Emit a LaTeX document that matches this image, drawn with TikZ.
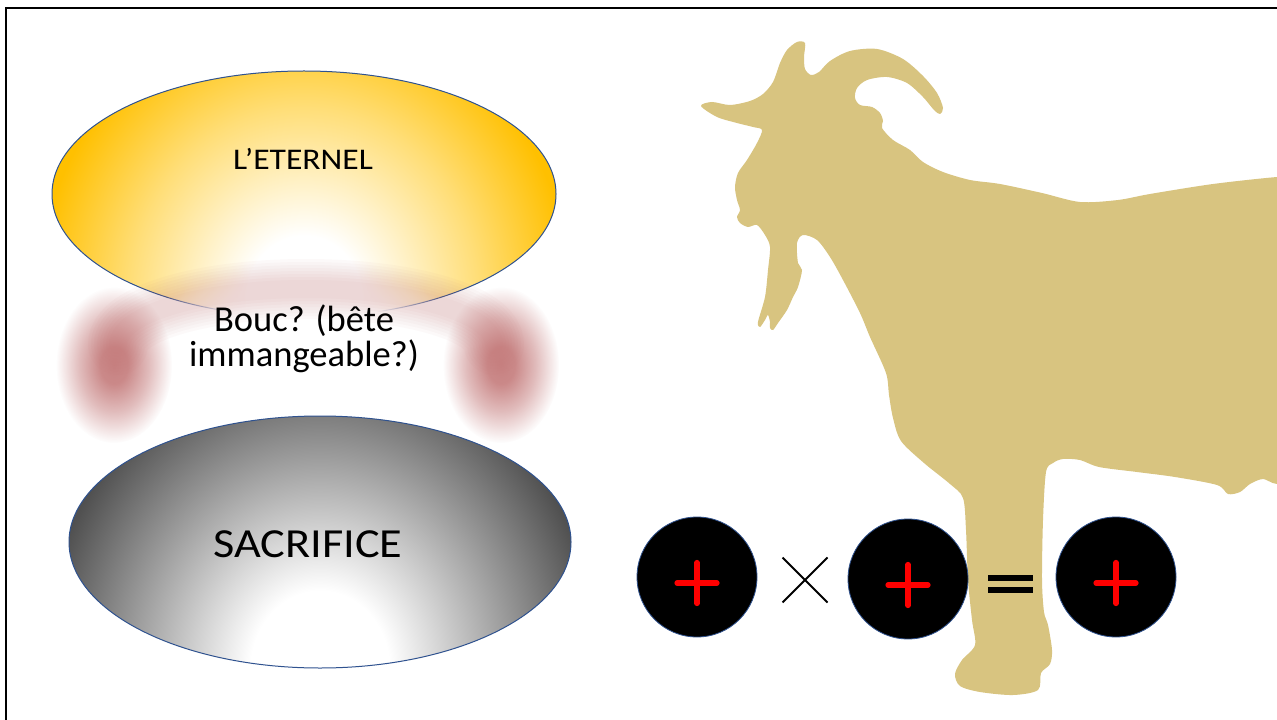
\documentclass[tikz,border=0pt]{standalone}
\usepackage{fontspec}
\setmainfont{Carlito}
\newfontfamily\widecal[FakeStretch=1.12]{Carlito}
\usetikzlibrary{fadings}

\definecolor{outlineblue}{RGB}{47,82,143}
\definecolor{eternalgold}{RGB}{255,192,0}
\definecolor{palegold}{RGB}{255,222,120}
\definecolor{shadowgray}{RGB}{80,80,80}
\definecolor{dustyrose}{RGB}{190,108,108}
\definecolor{goatfur}{RGB}{216,196,128}
\definecolor{signred}{RGB}{255,0,0}

% fills of the two big ellipses (path edge sits at 25bp)
\pgfdeclareradialshading{goldglow}{\pgfpointorigin}{color(0bp)=(white); color(5bp)=(white); color(15bp)=(palegold); color(23bp)=(eternalgold); color(50bp)=(eternalgold)}
\pgfdeclareradialshading{grayglow}{\pgfpointorigin}{color(0bp)=(white); color(6bp)=(white); color(24bp)=(shadowgray); color(50bp)=(shadowgray)}

% soft edges for the veil around the middle label
\pgfdeclareradialshading{softdiscshade}{\pgfpointorigin}{color(0bp)=(white); color(15bp)=(white); color(25bp)=(black); color(50bp)=(black)}
\pgfdeclarefading{softdisc}{\pgfuseshading{softdiscshade}}
\pgfdeclareradialshading{blobshade}{\pgfpointorigin}{color(0bp)=(white!85!black); color(6bp)=(white!80!black); color(15bp)=(white!45!black); color(25bp)=(black); color(50bp)=(black)}
\pgfdeclarefading{softblob}{\pgfuseshading{blobshade}}

\tikzset{
  rim/.style={draw=outlineblue, line width=0.75pt},
  signdisc/.style={circle, fill=black, draw=outlineblue, line width=0.6pt, minimum size=90pt, inner sep=0pt},
  plusstroke/.style={signred, line width=3.9pt, line cap=round},
  label/.style={anchor=base, inner sep=0pt, text=black},
  roseblob/.style={dustyrose, path fading=softblob, fit fading=true},
}

\begin{document}
\begin{tikzpicture}[x=0.75pt, y=-0.75pt]
\useasboundingbox (0,0) rectangle (1277,720);
\clip (0,0) rectangle (1277,720);
\fill[white] (0,0) rectangle (1277,720);

% ---- upper ellipse: L'ETERNEL ----
\begin{scope}
  \clip (304,194) ellipse [x radius=252, y radius=123];
  \shade[shading=goldglow] (304,300) ellipse [x radius=290, y radius=320];
\end{scope}
\draw[rim] (304,194) ellipse [x radius=252, y radius=123];

% ---- soft rosy arch around the middle label ----
\fill[white, path fading=softdisc, fit fading=true] (304,345) ellipse [x radius=180, y radius=75];
\foreach \w in {18,24,...,60}
  \draw[dustyrose, opacity=0.035, line width=\w*0.75pt, line cap=round] (118,345) arc[start angle=180, end angle=360, x radius=188, y radius=56];
\fill[roseblob] (114,365) ellipse [x radius=58, y radius=78];
\fill[roseblob] (501,365) ellipse [x radius=58, y radius=78];

\node[label, font=\widecal\fontsize{22.5}{27}\selectfont] (eternel) at (303,170) {L’ETERNEL};
\node[label, font=\fontsize{27.4}{33}\selectfont] (bouc) at (304,331) {Bouc? (bête};
\node[label, font=\fontsize{27.4}{33}\selectfont] (boucb) at (304,366) {immangeable?)};

% ---- lower ellipse: SACRIFICE ----
\begin{scope}
  \clip (320,542) ellipse [x radius=251, y radius=126];
  \shade[shading=grayglow] (320,670) ellipse [x radius=290, y radius=330];
\end{scope}
\draw[rim] (320,542) ellipse [x radius=251, y radius=126];
\node[label, font=\widecal\fontsize{31}{37}\selectfont] (sacrifice) at (308,557) {SACRIFICE};

% ---- goat silhouette ----
\fill[goatfur] plot[smooth cycle, tension=0.5] coordinates {
  (701,106) (712,102) (730,105) (750,101) (763,94) (773,82) (780,63) (787,50) (797,42) (805,43)
  (804,57) (805,69) (811,75) (819,72)
  (830,61) (850,51) (877,49) (903,59) (923,76) (937,93) (943,108) (940,114) (934,110)
  (923,97) (907,83) (887,77) (867,80) (857,88) (855,98) (860,105)
  (872,107) (880,113) (883,121) (882,128)
  (893,140) (910,150) (923,162) (943,172) (970,180) (1000,184) (1042,193) (1080,202) (1118,200) (1150,194) (1213,184) (1277,177) (1310,176)
  (1310,484)
  (1277,484) (1263,479) (1250,484) (1240,492) (1228,494) (1217,485) (1175,477) (1137,472) (1099,467) (1080,460) (1063,459) (1053,463) (1046,472)
  (1043,520) (1042,580) (1044,612) (1048,625) (1052,650) (1050,664) (1041,673) (1038,690)
  (1013,695) (980,692) (960,686) (955,674) (962,660) (975,645)
  (972,620) (968,580) (966,530) (963,498)
  (950,484) (924,463) (901,441) (893,418) (889,395) (886,373)
  (870,337) (860,313) (843,280) (830,257) (817,240) (803,235)
  (797,243) (798,263) (802,270) (798,287) (793,297) (787,310) (778,323) (773,330) (770,328) (770,322) (768,315)
  (765,320) (760,327) (758,322) (765,297) (768,270) (770,247) (765,235)
  (757,225) (748,227) (740,223) (737,217) (740,210) (737,200) (735,187) (738,173) (747,160) (757,143) (762,130)
  (753,127) (737,123) (717,117)
};

% ---- sign equation ----
\node[signdisc] (d1) at (697,577) {};
\node[signdisc] (d2) at (908,579) {};
\node[signdisc] (d3) at (1116,577) {};
\draw[plusstroke] (677,583) -- (717,583) (697,562.5) -- (697,603.5);
\draw[plusstroke] (888,585) -- (928,585) (908,564.5) -- (908,605.5);
\draw[plusstroke] (1096,583) -- (1136,583) (1116,562.5) -- (1116,603.5);
\draw[line width=1.5pt] (782.5,557.5) -- (827.5,602.5) (782.5,602.5) -- (827.5,557.5);
\fill (988,575) rectangle (1033,581);
\fill (988,587) rectangle (1033,593);

% ---- frame ----
\draw[line width=1.5pt] (6,8) rectangle (1310,740);
\end{tikzpicture}
\end{document}
